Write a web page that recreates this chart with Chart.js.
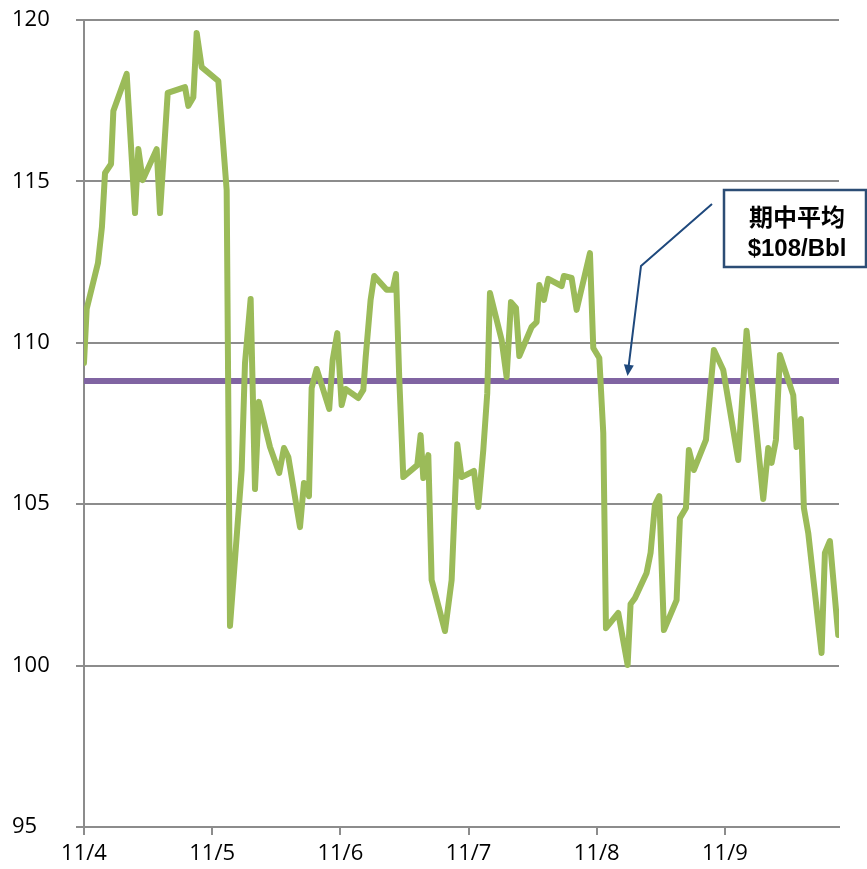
<!DOCTYPE html>
<html>
<head>
<meta charset="utf-8">
<script src="https://cdn.jsdelivr.net/npm/chart.js@4/dist/chart.umd.min.js"></script>
<style>
html,body{margin:0;padding:0;background:#fff;}
#c{display:block;}
</style>
</head>
<body>
<canvas id="c" width="867" height="869"></canvas>
<script>
// x positions in days since 11/4 (fractional), values in $/Bbl
const dayLabels = ['11/4','11/5','11/6','11/7','11/8','11/9'];
const priceDays = [0,0.021,0.109,0.140,0.164,0.211,0.229,0.333,0.398,0.424,0.458,0.567,0.593,0.653,0.788,0.814,0.853,0.879,0.918,1.048,
1.113,1.139,1.230,1.256,1.300,1.334,1.365,1.451,1.523,1.560,1.594,1.685,1.716,1.755,1.776,1.815,1.913,1.940,1.976,2.010,
2.041,2.140,2.179,2.197,2.236,2.264,2.361,2.408,2.434,2.459,2.491,2.600,2.626,2.647,2.686,2.712,2.816,2.868,2.912,2.946,
3.042,3.076,3.115,3.146,3.167,3.258,3.297,3.331,3.370,3.396,3.492,3.531,3.552,3.588,3.622,3.726,3.744,3.804,3.843,3.947,
3.973,4.020,4.051,4.072,4.168,4.241,4.264,4.298,4.389,4.420,4.454,4.488,4.524,4.623,4.649,4.696,4.719,4.758,4.852,4.914,
4.987,5.104,5.169,5.299,5.338,5.364,5.398,5.429,5.502,5.533,5.559,5.593,5.616,5.650,5.754,5.780,5.819,5.884];
const priceValues = [109.38,111.05,112.47,113.59,115.26,115.54,117.18,118.33,114.02,116.0,115.04,116.0,114.02,117.74,117.92,117.34,117.61,119.6,118.54,118.11,
114.73,101.23,106.06,109.37,111.36,105.47,108.17,106.77,105.97,106.74,106.46,104.29,105.66,105.25,108.60,109.19,107.95,109.47,110.30,108.07,
108.57,108.29,108.54,109.53,111.33,112.07,111.64,111.64,112.13,108.94,105.84,106.21,107.14,105.81,106.52,102.65,101.07,102.65,106.86,105.84,
106.03,104.91,106.68,108.44,111.54,110.09,108.94,111.26,111.08,109.59,110.49,110.64,111.79,111.33,111.98,111.76,112.07,112.01,111.02,112.78,
109.84,109.53,107.21,101.16,101.63,100.02,101.91,102.09,102.87,103.49,104.98,105.25,101.10,102.03,104.57,104.88,106.68,106.06,106.99,109.78,
109.16,106.37,110.37,105.16,106.74,106.28,106.99,109.62,108.75,108.38,106.77,107.64,104.88,104.11,100.39,103.49,103.86,100.95];
const periodAverage = 108.82;
const averageSpan = [0, 5.89];
const yTicks = [95,100,105,110,115,120];
const annotationLines = ['期中平均', '$108/Bbl'];
const arrowTargetDay = 4.24;

const pricePoints = priceDays.map((d,i)=>({x:d, y:priceValues[i]}));
const avgPoints = averageSpan.map(d=>({x:d, y:periodAverage}));

const annotationPlugin = {
  id:'calloutBox',
  afterDraw(chart){
    const ctx = chart.ctx;
    const xs = chart.scales.x, ys = chart.scales.y;
    const tipX = xs.getPixelForValue(arrowTargetDay);
    const tipY = ys.getPixelForValue(periodAverage) - 5;
    ctx.save();
    ctx.strokeStyle = '#1F497D';
    ctx.fillStyle = '#1F497D';
    ctx.lineWidth = 2;
    ctx.beginPath();
    ctx.moveTo(712, 204);
    ctx.lineTo(641, 266);
    ctx.lineTo(tipX + 1.2, tipY - 10);
    ctx.stroke();
    const ang = Math.atan2(tipY - 266, tipX - 641);
    const L = 11, W = 5;
    ctx.beginPath();
    ctx.moveTo(tipX, tipY);
    ctx.lineTo(tipX - L*Math.cos(ang) + W*Math.sin(ang), tipY - L*Math.sin(ang) - W*Math.cos(ang));
    ctx.lineTo(tipX - L*Math.cos(ang) - W*Math.sin(ang), tipY - L*Math.sin(ang) + W*Math.cos(ang));
    ctx.closePath();
    ctx.fill();
    ctx.fillStyle = '#ffffff';
    ctx.fillRect(724, 190, 142, 77);
    ctx.strokeStyle = '#2C4D75';
    ctx.lineWidth = 2.5;
    ctx.strokeRect(724, 190, 142, 77);
    ctx.fillStyle = '#000';
    ctx.textAlign = 'center';
    ctx.textBaseline = 'middle';
    ctx.font = 'bold 24px "Noto Sans CJK SC", sans-serif';
    ctx.fillText(annotationLines[0], 797, 217);
    ctx.font = 'bold 24px "Liberation Sans", Arial, sans-serif';
    ctx.fillText(annotationLines[1], 797, 249);
    ctx.restore();
  }
};

const gridGray = '#8C8C8C';
const labelFont = {family:'"Liberation Sans Narrow", "Open Sans", sans-serif', size:22};

new Chart(document.getElementById('c'), {
  type:'line',
  data:{
    datasets:[
      {data:avgPoints, borderColor:'#8064A2', borderWidth:6, pointRadius:0, borderCapStyle:'round', tension:0, order:2},
      {data:pricePoints, borderColor:'#9BBB59', borderWidth:6, pointRadius:0, tension:0, borderJoinStyle:'round', borderCapStyle:'round', order:1}
    ]
  },
  options:{
    responsive:false,
    animation:false,
    devicePixelRatio:1,
    layout:{padding:{left:12, top:20, right:28, bottom:0}},
    plugins:{legend:{display:false}, tooltip:{enabled:false}},
    scales:{
      x:{
        type:'linear', min:0, max:averageSpan[1],
        afterBuildTicks(scale){ scale.ticks = dayLabels.map((l,i)=>({value:i})); },
        afterFit(scale){ scale.height = 42; },
        ticks:{callback:(v)=>dayLabels[v], color:'#000', font:labelFont, padding:6, maxRotation:0, autoSkip:false},
        grid:{drawOnChartArea:false, drawTicks:true, tickLength:8, color:gridGray, lineWidth:2},
        border:{color:gridGray, width:2}
      },
      y:{
        min:95, max:120,
        afterBuildTicks(scale){ scale.ticks = yTicks.map(v=>({value:v})); },
        afterFit(scale){ scale.width = 72; },
        ticks:{color:'#000', font:labelFont, crossAlign:'far', padding:4},
        grid:{color:gridGray, lineWidth:2, tickLength:8},
        border:{color:gridGray, width:2}
      }
    }
  },
  plugins:[annotationPlugin]
});
</script>
</body>
</html>
